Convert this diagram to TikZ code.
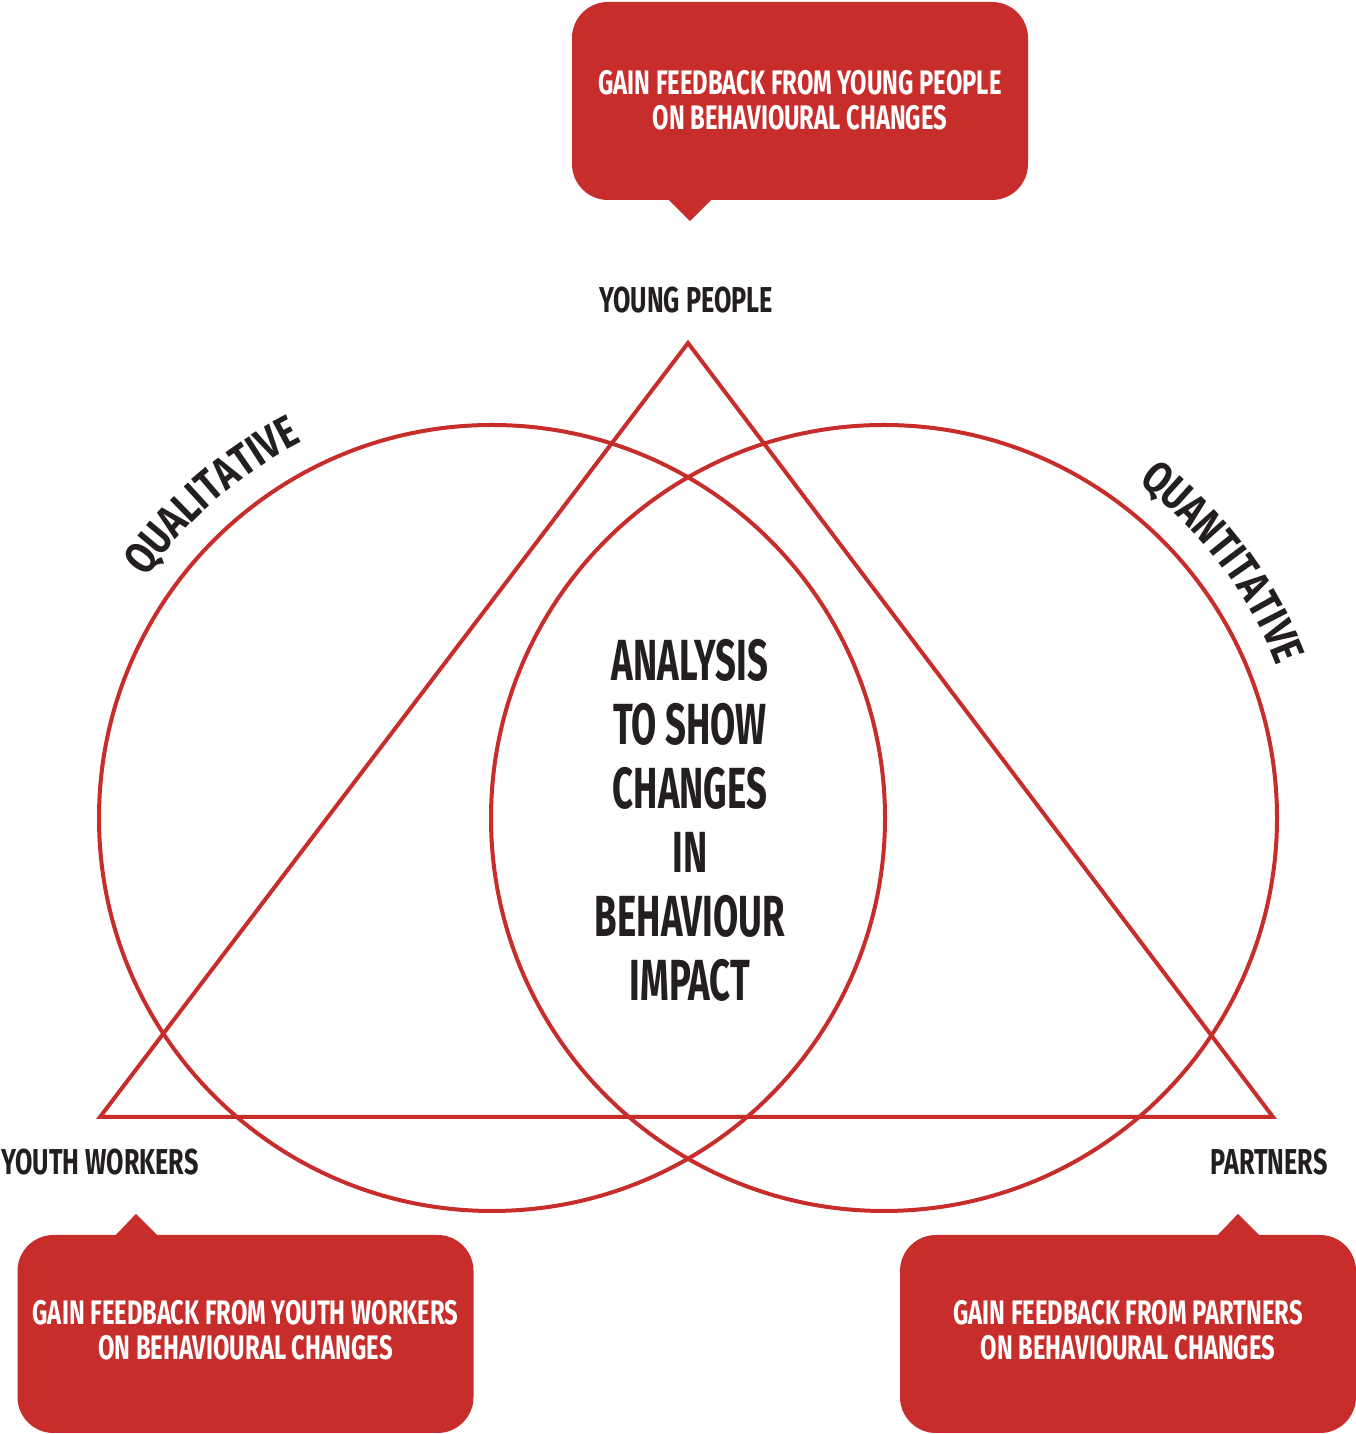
\documentclass[tikz,border=0pt]{standalone}
\usepackage{fontspec}
\newfontfamily\dinfont[FakeStretch=0.70]{Fira Sans}
\newfontfamily\dincentre[FakeStretch=0.63]{Fira Sans}
\newfontfamily\dinarc[FakeStretch=0.80]{Fira Sans}
\usetikzlibrary{decorations.text,calc}
\definecolor{brandred}{HTML}{C62D2B}
\definecolor{ink}{HTML}{231F20}
\newcommand\arcfont{\dinarc\bfseries\fontsize{45}{45}\selectfont\color{ink}}
\begin{document}
\begin{tikzpicture}[x=1pt,y=1pt,
  ring/.style={draw=brandred, line width=4pt},
  callout/.style={fill=brandred, rounded corners=36pt, minimum width=456pt, minimum height=198pt, inner sep=0pt},
  callouttext/.style={text=white, align=center, font=\dinfont\bfseries\fontsize{34}{35}\selectfont, inner sep=0pt},
  tail/.style={fill=brandred},
  lbl/.style={text=ink, font=\dinfont\bfseries\fontsize{36}{36}\selectfont, inner sep=0pt},
  centre/.style={text=ink, align=center, font=\dincentre\bfseries\fontsize{58}{64}\selectfont, inner sep=0pt}
]
\useasboundingbox (0,0) rectangle (1355,1434);
% circles
\coordinate (lc) at (492,616);
\coordinate (rc) at (884,616);
\draw[ring] (lc) circle[radius=393];
\draw[ring] (rc) circle[radius=393];
% triangle
\coordinate (apex) at (688,1091);
\coordinate (bl) at (100,317);
\coordinate (br) at (1273,317);
\draw[ring] (apex) -- (bl) -- (br) -- cycle;
% curved labels
\path[decorate, decoration={text along path, text align=center, text={|\arcfont|QUALITATIVE}}]
  ($(lc)+(168:421)$) arc[start angle=168, end angle=94, radius=421];
\path[decorate, decoration={text along path, text align=center, text={|\arcfont|QUANTITATIVE}}]
  ($(rc)+(82:421)$) arc[start angle=82, end angle=-8, radius=421];
% vertex labels
\node[lbl] (yp) at (686,1134) {YOUNG PEOPLE};
\node[lbl] (yw) at (100,272) {YOUTH WORKERS};
\node[lbl] (pa) at (1269,272) {PARTNERS};
% centre text
\node[centre] (mid) at (690,614) {ANALYSIS\\TO SHOW\\CHANGES\\IN\\BEHAVIOUR\\IMPACT};
% callouts
\node[callout] (ctop) at (800,1333) {};
\fill[tail] ($(ctop.south)+(-132,1)$) -- ($(ctop.south)+(-110,-21)$) -- ($(ctop.south)+(-88,1)$) -- cycle;
\node[callouttext] (ttop) at ($(ctop.center)+(0,1)$) {GAIN FEEDBACK FROM YOUNG PEOPLE\\ON BEHAVIOURAL CHANGES};
\node[callout] (cbl) at (245.5,100) {};
\fill[tail] ($(cbl.north)+(-130.5,-1)$) -- ($(cbl.north)+(-109.5,21)$) -- ($(cbl.north)+(-87.5,-1)$) -- cycle;
\node[callouttext] (tbl) at ($(cbl.center)+(0,4)$) {GAIN FEEDBACK FROM YOUTH WORKERS\\ON BEHAVIOURAL CHANGES};
\node[callout] (cbr) at (1128,100) {};
\fill[tail] ($(cbr.north)+(89,-1)$) -- ($(cbr.north)+(110,21)$) -- ($(cbr.north)+(132,-1)$) -- cycle;
\node[callouttext] (tbr) at ($(cbr.center)+(0,4)$) {GAIN FEEDBACK FROM PARTNERS\\ON BEHAVIOURAL CHANGES};
\end{tikzpicture}
\end{document}
